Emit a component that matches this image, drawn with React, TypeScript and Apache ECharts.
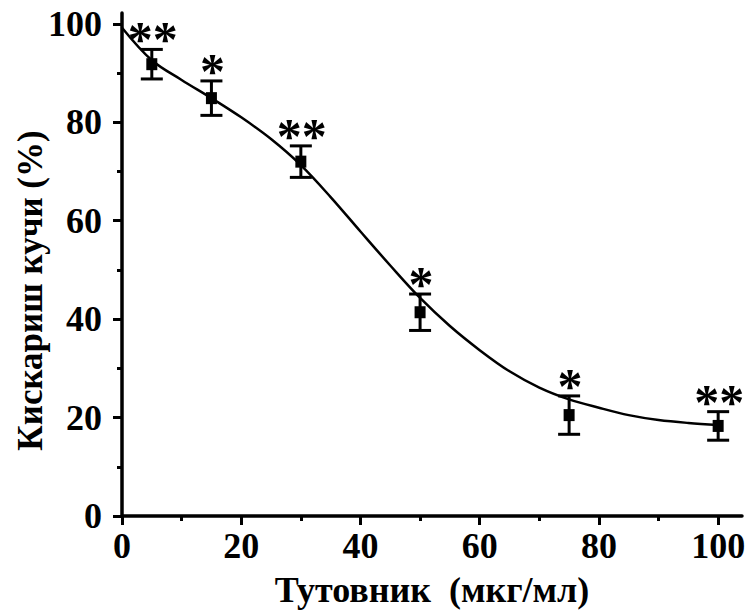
import React, { useEffect, useRef } from "react";
import * as echarts from "echarts";

// Measured points (dose, % inhibition, error)
const doses = [5, 15, 30, 50, 75, 100];
const inhibition = [91.8, 84.9, 72, 41.4, 20.5, 18.3];
const errors = [3, 3.5, 3.2, 3.7, 3.9, 2.9];
const stars = ["**", "*", "**", "*", "*", "**"];

// Fitted curve
const fitX = [0, 5, 10, 15, 20, 25, 30, 35, 40, 45, 50, 55, 60, 65, 70, 75, 80, 85, 90, 95, 100];
const fitY = [99.2, 92.6, 88.6, 84.9, 81.0, 76.6, 71.3, 64.8, 57.8, 50.9, 44.3, 38.6, 33.7, 29.4, 26.1, 23.7, 22, 20.5, 19.5, 18.9, 18.5];

const xTickLabels = [0, 20, 40, 60, 80, 100];
const xMinorTicks = [10, 30, 50, 70, 90];
const yTickLabels = [0, 20, 40, 60, 80, 100];
const yMinorTicks = [10, 30, 50, 70, 90];

const xName = "Тутовник  (мкг/мл)";
const yName = "Кискариш кучи (%)";

const FONT = "'Liberation Serif', 'Times New Roman', serif";

export default function App() {
  const ref = useRef<HTMLDivElement>(null);
  useEffect(() => {
    if (!ref.current) return;
    const chart = echarts.init(ref.current, null, { renderer: "svg" });
    const labelStyle = { color: "#000", fontFamily: FONT, fontWeight: "bold" as const, fontSize: 36 };
    const xMax = 104;
    const yMax = 102.2;
    chart.setOption({
      animation: false,
      backgroundColor: "#fff",
      grid: { left: 122, right: 7, top: 13, bottom: 96, containLabel: false, outerBoundsMode: "none" },
      xAxis: [
        {
          type: "value", min: 0, max: xMax, position: "bottom",
          name: xName, nameLocation: "middle", nameGap: 56,
          nameTextStyle: { color: "#000", fontFamily: FONT, fontWeight: "bold", fontSize: 36 },
          axisLine: { show: true, lineStyle: { color: "#000", width: 3.5 } },
          axisTick: { show: true, customValues: xTickLabels, length: 9, lineStyle: { color: "#000", width: 3 } },
          axisLabel: { ...labelStyle, customValues: xTickLabels, margin: 12 },
          splitLine: { show: false },
        },
        {
          type: "value", min: 0, max: xMax, position: "bottom", offset: 0,
          axisLine: { show: false },
          axisTick: { show: true, customValues: xMinorTicks, length: 5, lineStyle: { color: "#000", width: 3 } },
          axisLabel: { show: false },
          splitLine: { show: false },
        },
      ],
      yAxis: [
        {
          type: "value", min: 0, max: yMax, position: "left",
          name: yName, nameLocation: "middle", nameGap: 74, nameMoveOverlap: false,
          nameTextStyle: { color: "#000", fontFamily: FONT, fontWeight: "bold", fontSize: 35, padding: [0, 52, 0, 0] },
          axisLine: { show: true, lineStyle: { color: "#000", width: 3.5 } },
          axisTick: { show: true, customValues: yTickLabels, length: 9, lineStyle: { color: "#000", width: 3 } },
          axisLabel: { ...labelStyle, customValues: yTickLabels, margin: 20 },
          splitLine: { show: false },
        },
        {
          type: "value", min: 0, max: yMax, position: "left", offset: 0,
          axisLine: { show: false },
          axisTick: { show: true, customValues: yMinorTicks, length: 5, lineStyle: { color: "#000", width: 3 } },
          axisLabel: { show: false },
          splitLine: { show: false },
        },
      ],
      series: [
        {
          type: "line",
          xAxisIndex: 0, yAxisIndex: 0,
          data: fitX.map((x, i) => [x, fitY[i]]),
          smooth: 0.35,
          symbol: "none",
          lineStyle: { color: "#000", width: 2.5, opacity: 1 },
          z: 3,
        },
        {
          type: "custom",
          xAxisIndex: 0, yAxisIndex: 0,
          data: doses.map((d, i) => [d, inhibition[i] - errors[i], inhibition[i] + errors[i]]),
          itemStyle: { opacity: 1 },
          renderItem: (_params: any, api: any) => {
            const x = api.value(0);
            const top = api.coord([x, api.value(2)]);
            const bot = api.coord([x, api.value(1)]);
            const hw = 11;
            const style = { stroke: "#000", lineWidth: 3, opacity: 1 };
            return {
              type: "group",
              children: [
                { type: "line", shape: { x1: top[0], y1: top[1], x2: bot[0], y2: bot[1] }, style },
                { type: "line", shape: { x1: top[0] - hw, y1: top[1], x2: top[0] + hw, y2: top[1] }, style },
                { type: "line", shape: { x1: bot[0] - hw, y1: bot[1], x2: bot[0] + hw, y2: bot[1] }, style },
              ],
            };
          },
          z: 4,
        },
        {
          type: "scatter",
          xAxisIndex: 0, yAxisIndex: 0,
          data: doses.map((d, i) => [d, inhibition[i]]),
          symbol: "rect",
          symbolSize: [11, 12],
          itemStyle: { color: "#000", opacity: 1 },
          z: 5,
        },
        {
          type: "scatter",
          xAxisIndex: 0, yAxisIndex: 0,
          data: doses.map((d, i) => [d, inhibition[i] + errors[i]]),
          symbolSize: 0,
          itemStyle: { color: "#000", opacity: 1 },
          label: {
            show: true,
            position: "inside",
            formatter: (p: any) => stars[p.dataIndex],
            color: "#000",
            opacity: 1,
            fontFamily: FONT,
            fontWeight: "bold",
            fontSize: 50,
            offset: [1, -10],
            verticalAlign: "middle",
          },
          z: 6,
        },
      ],
    });
    return () => chart.dispose();
  }, []);
  return (
    <div
      ref={ref}
      style={{ position: "fixed", left: 0, top: 0, width: 749, height: 612, background: "#fff" }}
    />
  );
}
